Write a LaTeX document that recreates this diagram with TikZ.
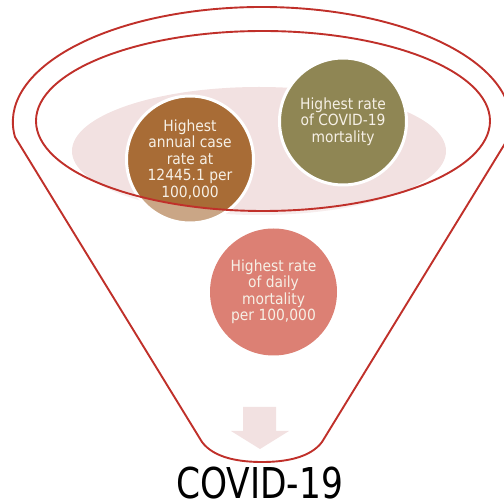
\documentclass[tikz,border=0pt]{standalone}
\usepackage{fontspec}
\newfontfamily\cf{DejaVu Sans Condensed}
\newfontfamily\cft[FakeStretch=0.9]{DejaVu Sans Condensed}
\definecolor{funred}{HTML}{C0302A}
\definecolor{pinkfill}{HTML}{F2E1E1}
\definecolor{browncirc}{HTML}{A86C36}
\definecolor{olivecirc}{HTML}{8F8654}
\definecolor{salmoncirc}{HTML}{DC8074}
\definecolor{txtcream}{HTML}{F6F0E6}
\tikzset{
  bubble/.style={circle, minimum size=127pt, inner sep=0pt, draw=white, line width=3pt,
    text=txtcream, align=center, font=\cf\fontsize{15.4}{16.5}\selectfont},
  funline/.style={draw=funred, line width=1.9pt, line join=round}
}
\begin{document}
\begin{tikzpicture}[x=1pt,y=-1pt]
\useasboundingbox (0,0) rectangle (504,502);
\clip (0,0) rectangle (504,502);
% pink back ellipse
\fill[pinkfill] (259,151) ellipse [x radius=187, y radius=64];
% brown and olive circles
\node[bubble, fill=browncirc] (c1) at (190,159.5) {Highest\\annual case\\rate at\\12445.1 per\\100,000};
\node[bubble, fill=olivecirc] (c2) at (343,121.5) {Highest rate\\of COVID-19\\mortality};
% translucent funnel body outside the inner ellipse
\fill[white, opacity=0.4, even odd rule]
  (509,137) -- (322,442) .. controls (310,458) and (285,462) .. (262,462)
  .. controls (239,462) and (214,458) .. (202,442) -- (15,137)
  arc [start angle=172.5, end angle=367.5, x radius=249, y radius=115] -- cycle
  (263,121) ellipse [x radius=227, y radius=90];
% funnel outline
\draw[funline] (509,137) -- (322,442) .. controls (310,458) and (285,462) .. (262,462)
  .. controls (239,462) and (214,458) .. (202,442) -- (15,137)
  arc [start angle=172.5, end angle=367.5, x radius=249, y radius=115];
\draw[funline] (263,121) ellipse [x radius=227, y radius=90];
% bottom circle
\node[bubble, draw=none, fill=salmoncirc] (c3) at (273.5,292) {Highest rate\\of daily\\mortality\\per 100,000};
% arrow
\fill[pinkfill] (243,407) -- (276,407) -- (276,431) -- (289,431) -- (260,449) -- (231,431) -- (243,431) -- cycle;
% title
\node[anchor=base, inner sep=0pt, font=\cft\fontsize{42.5}{42.5}\selectfont, text=black] (title) at (259.5,498.5) {COVID-19};
\end{tikzpicture}
\end{document}
